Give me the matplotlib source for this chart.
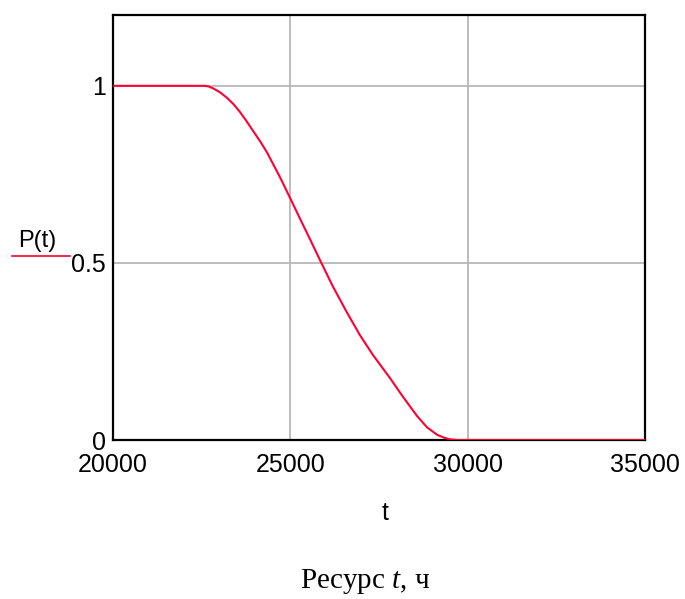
import matplotlib
matplotlib.use("Agg")
import matplotlib.pyplot as plt

plt.rcParams['mathtext.fontset'] = 'custom'
plt.rcParams['mathtext.rm'] = 'Liberation Serif'
plt.rcParams['mathtext.it'] = 'Liberation Serif:italic'

# Data
t_vals = [20000, 22594, 22700, 22819, 23014, 23214, 23400, 23580, 23760, 23947,
          24150, 24342, 24708, 24990, 25272, 25554, 25836, 26202, 26597, 26963,
          27330, 27809, 28176, 28571, 28853, 29135, 29350, 29501, 29698, 35000]
p_vals = [1.0, 1.0, 0.998, 0.993, 0.982, 0.966, 0.948, 0.926, 0.901, 0.873,
          0.843, 0.812, 0.742, 0.684, 0.625, 0.567, 0.508, 0.433, 0.360, 0.296,
          0.240, 0.175, 0.122, 0.068, 0.036, 0.015, 0.006, 0.002, 0.0, 0.0]
x_ticks = [20000, 25000, 30000, 35000]
y_ticks = [0, 0.5, 1]
y_tick_labels = ["0", "0.5", "1"]

fig = plt.figure(figsize=(6.85, 5.99), dpi=100)
ax = fig.add_axes([0.165, 0.2654, 0.7766, 0.7096])

ax.plot(t_vals, p_vals, color="#ff0033", lw=1.5, zorder=3)
ax.set_xlim(20000, 35000)
ax.set_ylim(0, 1.2)
ax.set_xticks(x_ticks)
ax.set_yticks(y_ticks)
ax.set_xticklabels([str(v) for v in x_ticks])
ax.set_yticklabels(y_tick_labels)
ax.grid(True, color="#b8b8b8", lw=1.3)
ax.tick_params(axis="x", length=0, labelsize=18, pad=9)
ax.tick_params(axis="y", length=0, labelsize=18, pad=5)
for lbl in ax.get_xticklabels() + ax.get_yticklabels():
    lbl.set_family("Liberation Sans")
for s in ax.spines.values():
    s.set_linewidth(1.6)
    s.set_color("black")

fig.text(37 / 685, 1 - 241 / 599, "P(t)", ha="center", va="center",
         fontsize=17, family="Liberation Sans")
fig.add_artist(plt.Line2D([12 / 685, 70 / 685], [1 - 256 / 599, 1 - 256 / 599],
                          color="#ff0033", lw=1.2))
fig.text(385 / 685, 1 - 513 / 599, "t", ha="center", va="center",
         fontsize=18, family="Liberation Sans")
fig.text(365 / 685, 1 - 581 / 599, "Ресурс $\\mathit{t}$, ч", ha="center", va="center",
         fontsize=21, family="Liberation Serif")
fig.savefig("out.png", dpi=100)
